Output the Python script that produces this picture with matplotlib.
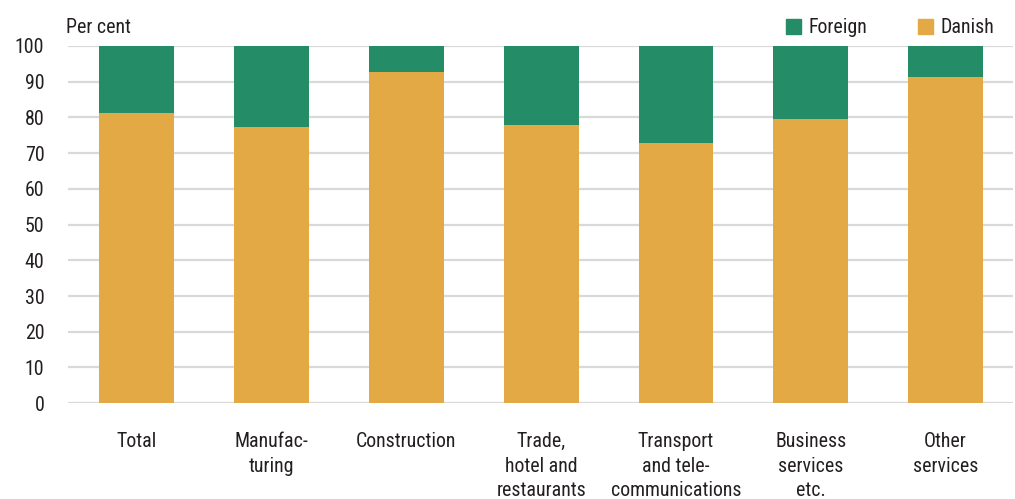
import matplotlib.pyplot as plt
from matplotlib import font_manager
from matplotlib.patches import Patch

categories = ["Total", "Manufac-\nturing", "Construction", "Trade,\nhotel and\nrestaurants",
              "Transport\nand tele-\ncommunications", "Business\nservices\netc.", "Other\nservices"]
danish = [81.3, 77.4, 92.8, 78.0, 72.9, 79.6, 91.2]
foreign = [100 - d for d in danish]
yticks = list(range(0, 101, 10))

green = "#248C66"
orange = "#E3A945"

# narrow font if there is one
names = {f.name for f in font_manager.fontManager.ttflist}
fam = "Liberation Sans"
for n in ["Liberation Sans Narrow", "Roboto Condensed", "Open Sans Condensed", "DejaVu Sans Condensed"]:
    if n in names:
        fam = n
        break
plt.rcParams['font.family'] = [fam, 'DejaVu Sans']
fs = 14.3

fig = plt.figure(figsize=(10.15, 4.99), dpi=100)
ax = fig.add_axes([0.067, 0.192, 0.931, 0.716])

x = range(len(categories))
ax.bar(x, danish, width=0.555, color=orange, zorder=3)
ax.bar(x, foreign, bottom=danish, width=0.555, color=green, zorder=3)

ax.set_ylim(0, 100)
ax.set_xlim(-0.51, 6.5)
ax.set_yticks(yticks)
ax.set_yticklabels([str(t) for t in yticks], fontsize=fs, color="#231f20")
ax.set_xticks(list(x))
ax.set_xticklabels(categories, fontsize=fs, color="#231f20", linespacing=1.36, va="top")
ax.tick_params(axis="both", length=0)
ax.tick_params(axis="x", pad=21)
ax.tick_params(axis="y", pad=17)
ax.grid(axis="y", color="#d9d9d9", linewidth=1.6, zorder=0)
for s in ax.spines.values():
    s.set_visible(False)

fig.text(0.065, 0.944, "Per cent", fontsize=fs, color="#231f20", va="center")

handles = [Patch(color=green, label="Foreign"), Patch(color=orange, label="Danish")]
fig.legend(handles=handles, loc="center", bbox_to_anchor=(0.877, 0.944), ncol=2, frameon=False,
           fontsize=fs, handlelength=0.75, handleheight=0.75, handletextpad=0.35, columnspacing=2.6,
           labelcolor="#231f20")

fig.savefig("out.png", dpi=100)
